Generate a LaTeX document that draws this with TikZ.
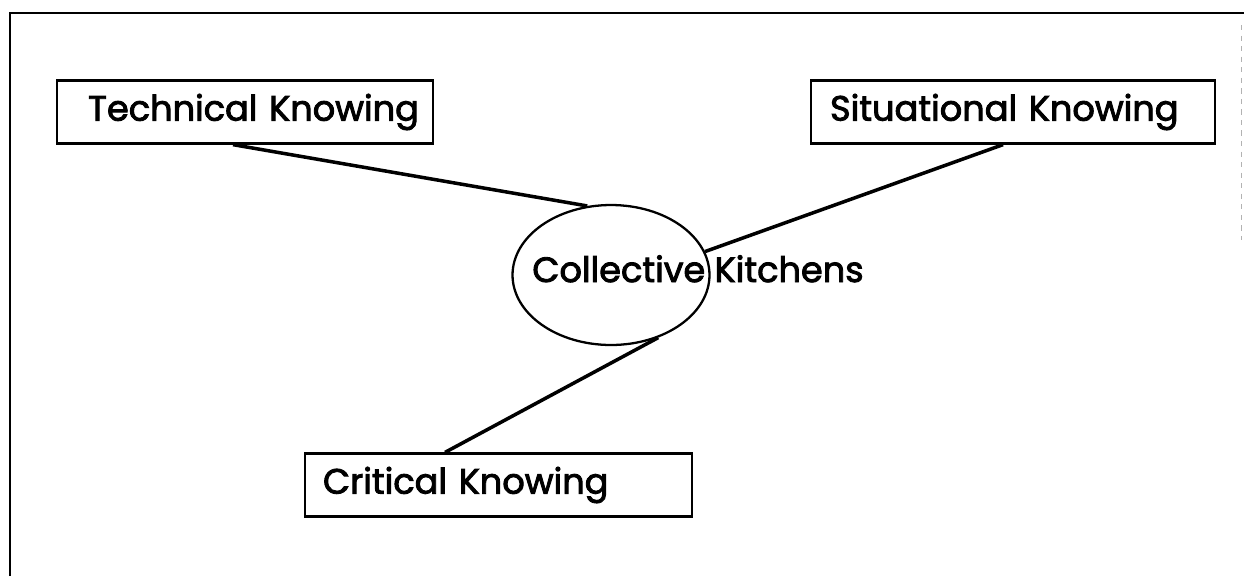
\documentclass[tikz,border=0pt]{standalone}
\usepackage{fontspec}
\setmainfont{Poppins}[UprightFeatures={FakeBold=2.5}]
\usetikzlibrary{shapes.geometric}
\tikzset{knowbox/.style={draw, line width=1.3pt, rectangle, align=left,
    minimum height=1.26cm, inner ysep=0pt, font=\fontsize{20}{22}\selectfont},
  link/.style={line width=2pt}}
\begin{document}
\begin{tikzpicture}[x=0.02cm, y=-0.02cm]
      \useasboundingbox (0, 0) rectangle (1244, 576);
      % frame
      \draw [line width=1.2pt] (10, 576) -- (10, 13) -- (1244, 13);
      \draw [gray!60, dashed, line width=0.5pt] (1241, 25) -- (1241, 240);

      \node [knowbox, text width=6.28cm, inner xsep=0.62cm] (tech) at (245, 112) {\mbox{Technical Knowing}};
      \node [knowbox, text width=7.32cm, inner xsep=0.38cm] (situ) at (1013, 112) {\mbox{Situational Knowing}};
      \node [knowbox, text width=7.02cm, inner xsep=0.36cm] (crit) at (498.5, 485) {\mbox{Critical Knowing}};

      \node [draw, ellipse, line width=1.3pt, minimum width=3.94cm, minimum height=2.8cm] (ck) at (611, 275) {};
      \node [anchor=base west, inner sep=0pt, font=\fontsize{20}{22}\selectfont] (ckl) at (532, 282) {Collective Kitchens};

      \draw [link] ([xshift=-0.24cm]tech.south) -- (ck.109);
      \draw [link] ([xshift=-0.2cm]situ.south) -- (ck.14);
      \draw [link] ([xshift=-1.07cm]crit.north) -- (ck.-53);
    \end{tikzpicture}
\end{document}
